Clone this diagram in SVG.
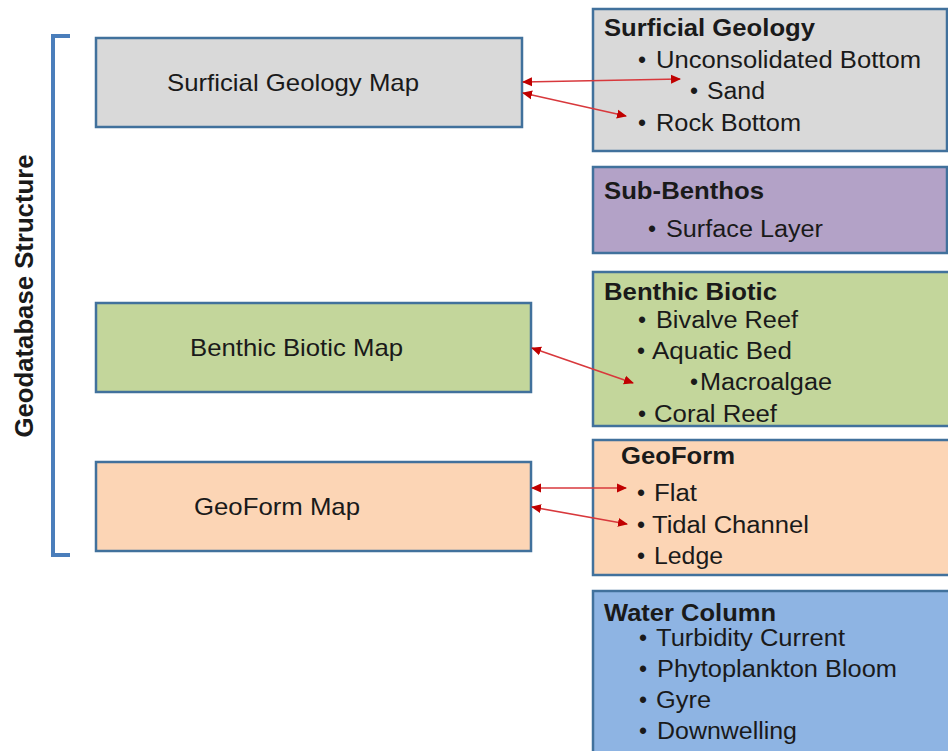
<svg xmlns="http://www.w3.org/2000/svg" width="948" height="751" viewBox="0 0 948 751">
<defs>
<style>
.box{stroke:#41719c;stroke-width:2.5}
.gray{fill:#d9d9d9}.purple{fill:#b3a2c7}.green{fill:#c3d69b}.peach{fill:#fcd5b5}.blue{fill:#8eb4e3}
text{font-family:"Liberation Sans",Arial,sans-serif;fill:#1a1a1a}
.lbl{font-size:24px}
.ttl{font-size:23px;font-weight:bold}
.itm{font-size:23px}
.conn{stroke:#d8383c;stroke-width:1.6;fill:none;marker-start:url(#ah);marker-end:url(#ah)}
</style>
<marker id="ah" viewBox="0 0 10 10" refX="9" refY="5" markerWidth="10" markerHeight="10" markerUnits="userSpaceOnUse" orient="auto-start-reverse">
<path d="M0,0.5 L10,5 L0,9.5 Z" fill="#c00000"/>
</marker>
</defs>
<rect width="948" height="751" fill="#ffffff"/>

<g id="bracket">
<path d="M70,36 H53 V555 H70" fill="none" stroke="#4a7ebb" stroke-width="4"/>
<text transform="translate(33,296) rotate(-90)" text-anchor="middle" font-size="25" font-weight="bold" textLength="283" lengthAdjust="spacingAndGlyphs">Geodatabase Structure</text>
</g>

<g id="surficial-map">
<rect class="box gray" x="96" y="38" width="426" height="89"/>
<text class="lbl" x="167" y="91" textLength="252" lengthAdjust="spacingAndGlyphs">Surficial Geology Map</text>
</g>
<g id="benthic-map">
<rect class="box green" x="96" y="303" width="435" height="89"/>
<text class="lbl" x="190" y="356" textLength="213" lengthAdjust="spacingAndGlyphs">Benthic Biotic Map</text>
</g>
<g id="geoform-map">
<rect class="box peach" x="96" y="462" width="435" height="89"/>
<text class="lbl" x="194" y="515" textLength="166" lengthAdjust="spacingAndGlyphs">GeoForm Map</text>
</g>

<g id="surficial-geology">
<rect class="box gray" x="593" y="9" width="354" height="142"/>
<text class="ttl" x="604" y="36" textLength="211" lengthAdjust="spacingAndGlyphs">Surficial Geology</text>
<text class="itm" x="638" y="68">•</text>
<text class="itm" x="656" y="68" textLength="265" lengthAdjust="spacingAndGlyphs">Unconsolidated Bottom</text>
<text class="itm" x="690" y="99">•</text>
<text class="itm" x="707" y="99" textLength="58" lengthAdjust="spacingAndGlyphs">Sand</text>
<text class="itm" x="638" y="131">•</text>
<text class="itm" x="656" y="131" textLength="145" lengthAdjust="spacingAndGlyphs">Rock Bottom</text>
</g>

<g id="sub-benthos">
<rect class="box purple" x="593" y="167" width="354" height="86"/>
<text class="ttl" x="604" y="199" textLength="160" lengthAdjust="spacingAndGlyphs">Sub-Benthos</text>
<text class="itm" x="648" y="237">•</text>
<text class="itm" x="666" y="237" textLength="157" lengthAdjust="spacingAndGlyphs">Surface Layer</text>
</g>

<g id="benthic-biotic">
<rect class="box green" x="593" y="272" width="360" height="154"/>
<text class="ttl" x="604" y="300" textLength="173" lengthAdjust="spacingAndGlyphs">Benthic Biotic</text>
<text class="itm" x="638" y="328">•</text>
<text class="itm" x="656" y="328" textLength="142" lengthAdjust="spacingAndGlyphs">Bivalve Reef</text>
<text class="itm" x="637" y="359">•</text>
<text class="itm" x="652" y="359" textLength="140" lengthAdjust="spacingAndGlyphs">Aquatic Bed</text>
<text class="itm" x="690" y="390">•</text>
<text class="itm" x="700" y="390" textLength="132" lengthAdjust="spacingAndGlyphs">Macroalgae</text>
<text class="itm" x="638" y="422">•</text>
<text class="itm" x="654" y="422" textLength="123" lengthAdjust="spacingAndGlyphs">Coral Reef</text>
</g>

<g id="geoform">
<rect class="box peach" x="593" y="440" width="370" height="135"/>
<text class="ttl" x="621" y="464" textLength="114" lengthAdjust="spacingAndGlyphs">GeoForm</text>
<text class="itm" x="637" y="501">•</text>
<text class="itm" x="654" y="501" textLength="43" lengthAdjust="spacingAndGlyphs">Flat</text>
<text class="itm" x="637" y="533">•</text>
<text class="itm" x="652" y="533" textLength="157" lengthAdjust="spacingAndGlyphs">Tidal Channel</text>
<text class="itm" x="637" y="564">•</text>
<text class="itm" x="654" y="564" textLength="69" lengthAdjust="spacingAndGlyphs">Ledge</text>
</g>

<g id="water-column">
<rect class="box blue" x="593" y="591" width="370" height="180"/>
<text class="ttl" x="604" y="621" textLength="172" lengthAdjust="spacingAndGlyphs">Water Column</text>
<text class="itm" x="639" y="646">•</text>
<text class="itm" x="656" y="646" textLength="189" lengthAdjust="spacingAndGlyphs">Turbidity Current</text>
<text class="itm" x="639" y="677">•</text>
<text class="itm" x="657" y="677" textLength="240" lengthAdjust="spacingAndGlyphs">Phytoplankton Bloom</text>
<text class="itm" x="639" y="708">•</text>
<text class="itm" x="656" y="708" textLength="55" lengthAdjust="spacingAndGlyphs">Gyre</text>
<text class="itm" x="639" y="739">•</text>
<text class="itm" x="657" y="739" textLength="140" lengthAdjust="spacingAndGlyphs">Downwelling</text>
</g>

<g id="connectors">
<line class="conn" x1="523" y1="82" x2="680" y2="79"/>
<line class="conn" x1="523" y1="93" x2="626" y2="116"/>
<line class="conn" x1="532" y1="348" x2="633" y2="383"/>
<line class="conn" x1="532" y1="488" x2="626" y2="488"/>
<line class="conn" x1="532" y1="507" x2="627" y2="524"/>
</g>
</svg>
